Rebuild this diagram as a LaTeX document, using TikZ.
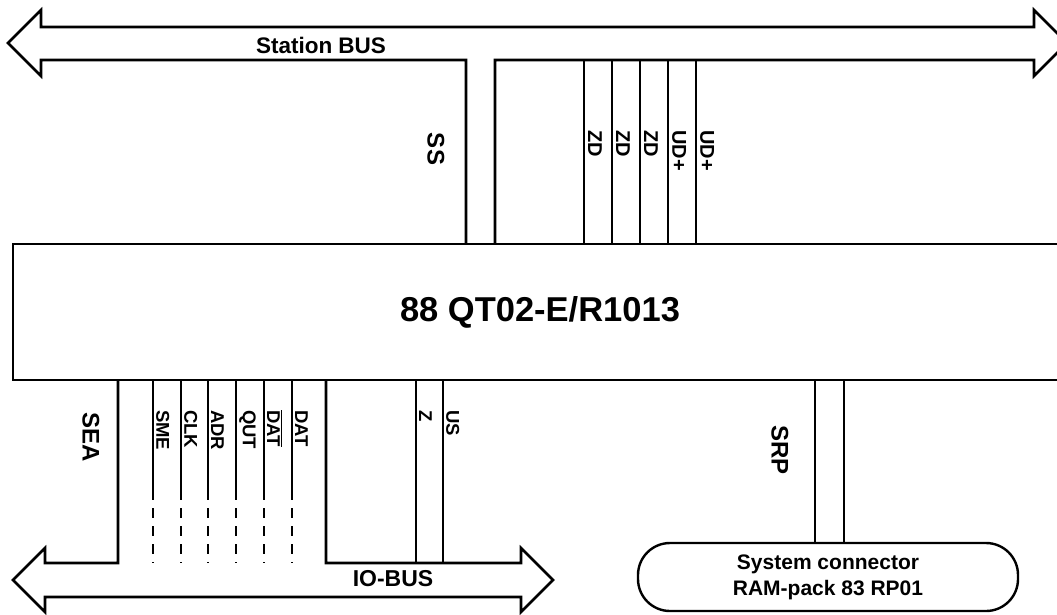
\documentclass[tikz,border=0pt]{standalone}
\usepackage{fontspec}
\setmainfont{Liberation Sans}
\begin{document}
\begin{tikzpicture}[x=1pt,y=-1pt,
  outline/.style={line width=2.6pt, line join=miter},
  sig/.style={line width=1.5pt},
  sigdash/.style={line width=1.5pt, dash pattern=on 10pt off 8pt},
  toplab/.style={font=\fontsize{20}{20}\selectfont\bfseries, rotate=-90, anchor=south west, inner sep=0pt},
  botlab/.style={font=\fontsize{18.5}{18.5}\selectfont\bfseries, rotate=-90, anchor=south west, inner sep=0pt},
  biglab/.style={font=\fontsize{24}{24}\selectfont\bfseries, rotate=-90, anchor=center, inner sep=0pt},
  buslab/.style={font=\fontsize{22.5}{22.5}\selectfont\bfseries, inner sep=0pt}]
\useasboundingbox (0,0) rectangle (1057,614);
\clip (0,0) rectangle (1057,614);

% Station bus with SS stem
\draw[outline] (466,244) -- (466,60) -- (41,60) -- (41,76) -- (8,43) -- (41,10)
  -- (41,27) -- (1034,27) -- (1034,10) -- (1067,43) -- (1034,76) -- (1034,60)
  -- (495,60) -- (495,244);
\node[buslab] (stbus) at (321,45) {Station BUS};

% main box
\draw[outline] (1062,244) -- (13,244) -- (13,380) -- (1062,380);
\node[font=\fontsize{34.5}{34.5}\selectfont\bfseries] (main) at (540,312) {88 QT02-E/R1013};

% top signal lines
\foreach \x/\t [count=\i] in {584/ZD,612/ZD,640/ZD,668/UD+,696/UD+}{
  \coordinate (tu\i) at (\x,60);
  \coordinate (tl\i) at (\x,244);
  \draw[sig] (tu\i) -- (tl\i);
  \node[toplab] (tlab\i) at (\x+4,130) {\t};
}
\node[biglab] (ss) at (436,149) {SS};

% IO bus with SEA stem
\draw[outline] (118,380) -- (118,563) -- (45,563) -- (45,548) -- (13,580) -- (45,612)
  -- (45,597) -- (521,597) -- (521,612) -- (553,580) -- (521,548) -- (521,563)
  -- (326,563) -- (326,380);
\node[buslab, font=\fontsize{23}{23}\selectfont\bfseries] (iobus) at (393,579) {IO-BUS};
\node[biglab] (sea) at (91,437) {SEA};

% bottom signal lines (solid then dashed)
\foreach \x/\t [count=\i] in {153/SME,181/CLK,208/ADR,236/QUT,264/{\ensuremath{\overline{\hbox{DAT}}}},292/DAT}{
  \coordinate (ba\i) at (\x,380);
  \coordinate (bm\i) at (\x,490);
  \coordinate (bz\i) at (\x,563);
  \draw[sig] (ba\i) -- (bm\i);
  \draw[sigdash] (bm\i) -- (bz\i);
  \node[botlab] (blab\i) at (\x+3,410) {\t};
}
\foreach \x/\t [count=\i] in {416/Z,443/US}{
  \coordinate (ca\i) at (\x,380);
  \coordinate (cz\i) at (\x,563);
  \draw[sig] (ca\i) -- (cz\i);
  \node[botlab] (clab\i) at (\x+3,410) {\t};
}

% system connector
\node[draw, line width=2.4pt, rounded corners=32pt, minimum width=380pt, minimum height=68pt,
  align=center, font=\fontsize{21}{26}\selectfont\bfseries] (sys) at (828,577)
  {System connector\\RAM-pack 83 RP01};
\coordinate (srp1) at (815,380);
\coordinate (srp2) at (844,380);
\draw[outline] (srp1) -- (srp1 |- sys.north);
\draw[outline] (srp2) -- (srp2 |- sys.north);
\node[biglab] (srp) at (780,450) {SRP};
\end{tikzpicture}
\end{document}
